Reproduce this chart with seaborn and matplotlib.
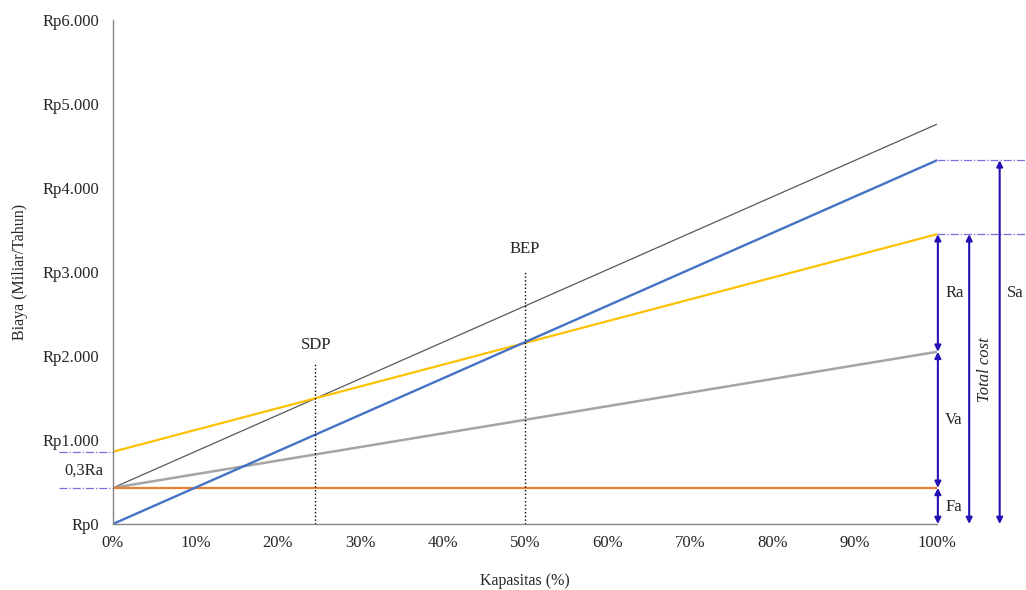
import numpy as np
import pandas as pd
import seaborn as sns
import matplotlib.pyplot as plt
from matplotlib.ticker import FuncFormatter

# Data (Miliar/Tahun) terhadap kapasitas (%)
kapasitas = [0, 100]
fa = [430, 430]            # biaya tetap
va_fa = [430, 2050]        # biaya variabel + tetap
total_cost = [860, 3450]   # total cost
sa = [0, 4330]             # penjualan
sdp_line = [430, 4760]     # garis SDP

bep_x, bep_top = 50, 3000
sdp_x, sdp_top = 24.5, 1900

sns.set_theme(style="white")
plt.rcParams['font.family'] = ['Liberation Serif', 'DejaVu Serif']

fig = plt.figure(figsize=(10.26, 5.9), dpi=100)
ax = fig.add_axes([0.1101, 0.1119, 0.8032, 0.8542])

sns.lineplot(x=kapasitas, y=sdp_line, color="#595959", linewidth=0.9, ax=ax)
sns.lineplot(x=kapasitas, y=va_fa, color="#A5A5A5", linewidth=1.8, ax=ax)
sns.lineplot(x=kapasitas, y=fa, color="#ED7D31", linewidth=1.6, ax=ax)
sns.lineplot(x=kapasitas, y=total_cost, color="#FFC000", linewidth=1.6, ax=ax)
sns.lineplot(x=kapasitas, y=sa, color="#4472C4", linewidth=1.7, ax=ax)

# garis BEP dan SDP
ax.plot([bep_x, bep_x], [0, bep_top], color="black", linestyle=":", linewidth=1)
ax.plot([sdp_x, sdp_x], [0, sdp_top], color="black", linestyle=":", linewidth=1)
ax.text(bep_x, bep_top + 270, "BEP", ha="center", va="center", fontsize=12)
ax.text(sdp_x + 0.2, sdp_top + 230, "SDP", ha="center", va="center", fontsize=12)

# garis bantu putus-putus
dash_col = "#7B6FE0"
ax.plot([-6.5, 0], [total_cost[0], total_cost[0]], color=dash_col, ls="-.", lw=0.9, clip_on=False)
ax.plot([-6.5, 0], [fa[0], fa[0]], color=dash_col, ls="-.", lw=0.9, clip_on=False)
ax.plot([100, 111], [total_cost[1], total_cost[1]], color=dash_col, ls="-.", lw=0.9, clip_on=False)
ax.plot([100, 111], [sa[1], sa[1]], color=dash_col, ls="-.", lw=0.9, clip_on=False)
ax.text(-3.5, 640, "0,3Ra", ha="center", va="center", fontsize=12)

# panah
arrow_col = "#2412B4"
def panah(x, y0, y1):
    ax.annotate("", xy=(x, y1), xytext=(x, y0), annotation_clip=False,
                arrowprops=dict(arrowstyle="<|-|>", color=arrow_col, lw=1.5,
                                mutation_scale=9, shrinkA=0, shrinkB=0))

panah(100.1, 0, fa[1])
panah(100.1, fa[1], va_fa[1])
panah(100.1, va_fa[1], total_cost[1])
panah(103.9, 0, total_cost[1])
panah(107.6, 0, sa[1])

ax.text(101.0, 2750, "Ra", ha="left", va="center", fontsize=12)
ax.text(101.0, 1240, "Va", ha="left", va="center", fontsize=12)
ax.text(101.0, 200, "Fa", ha="left", va="center", fontsize=12)
ax.text(105.8, 1840, "Total cost", ha="center", va="center", fontsize=12,
        rotation=90, style="italic")
ax.text(108.5, 2750, "Sa", ha="left", va="center", fontsize=12)

ax.set_xlim(0, 100)
ax.set_ylim(0, 6000)
ax.set_xticks(range(0, 101, 10))
ax.set_yticks(range(0, 6001, 1000))
ax.xaxis.set_major_formatter(FuncFormatter(lambda v, p: f"{int(v)}%"))
ax.yaxis.set_major_formatter(FuncFormatter(lambda v, p: "Rp" + f"{int(v):,}".replace(",", ".")))
ax.tick_params(axis="both", length=0, labelsize=12)
ax.tick_params(axis="y", pad=10)
ax.tick_params(axis="x", pad=8)

for s in ["top", "right"]:
    ax.spines[s].set_visible(False)
for s in ["left", "bottom"]:
    ax.spines[s].set_color("#868686")
    ax.spines[s].set_linewidth(1)

ax.set_xlabel("Kapasitas (%)", fontsize=11.5, labelpad=16)
ax.set_ylabel("Biaya (Miliar/Tahun)", fontsize=11.5, labelpad=10)

fig.savefig("out.png", dpi=100)
